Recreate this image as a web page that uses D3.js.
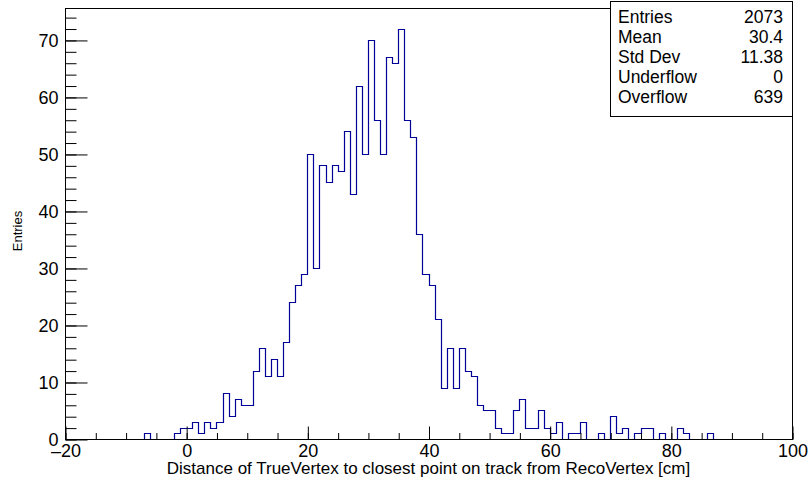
<!DOCTYPE html>
<html>
<head>
<meta charset="utf-8">
<script src="https://cdn.jsdelivr.net/npm/d3@7"></script>
<style>
  html, body { margin: 0; padding: 0; background: #fff; }
  svg { display: block; }
  text { font-family: "Liberation Sans", Arial, Helvetica, sans-serif; fill: #000; }
</style>
</head>
<body>
<svg id="chart" width="810" height="478"></svg>
<script>
// ---- data ----
const binLow = d3.range(-20, 100, 1);          // lower edges of the 120 bins (width 1)
const binWidth = 1;
const counts = [
  // -20 .. -11
  0,0,0,0,0,0,0,0,0,0,
  // -10 .. -1
  0,0,0,1,0,0,0,0,1,2,
  // 0 .. 9
  2,3,1,3,2,3,8,4,7,6,
  // 10 .. 19
  6,12,16,11,14,11,17,24,27,29,
  // 20 .. 29
  50,30,48,45,48,47,54,43,62,50,
  // 30 .. 39
  70,56,50,67,66,72,56,53,36,29,
  // 40 .. 49
  27,21,9,16,9,16,12,11,6,5,
  // 50 .. 59
  5,2,1,1,5,7,2,2,5,2,
  // 60 .. 69
  1,3,0,1,1,3,0,0,1,0,
  // 70 .. 79
  4,1,2,0,1,2,2,0,1,0,
  // 80 .. 89
  0,2,1,0,0,0,1,0,0,0,
  // 90 .. 99
  0,0,0,0,0,0,0,0,0,0
];
const xTicks = [-20, 0, 20, 40, 60, 80, 100];
const xMinorTicks = d3.range(-20, 100.001, 5);
const yTicks = [0, 10, 20, 30, 40, 50, 60, 70];
const yMinorTicks = d3.range(0, 75, 2);
const xTitle = "Distance of TrueVertex to closest point on track from RecoVertex [cm]";
const yTitle = "Entries";
const statLabels = ["Entries", "Mean", "Std Dev", "Underflow", "Overflow"];
const statValues = ["2073", "30.4", "11.38", "0", "639"];

// ---- layout ----
const L = 65, R = 792, T = 8, B = 439;
const svg = d3.select("#chart");

const x = d3.scaleLinear().domain([-20, 100]).range([L, R]);
const y = d3.scaleLinear().domain([0, 75.6]).range([B, T]);

// histogram step path
const pts = [[-20, 0]];
binLow.forEach((lo, i) => {
  pts.push([lo, counts[i]]);
  pts.push([lo + binWidth, counts[i]]);
});
pts.push([100, 0]);

svg.append("path")
  .attr("d", d3.line().x(d => Math.round(x(d[0])) + 0.5).y(d => Math.round(y(d[1])) + 0.5)(pts))
  .attr("fill", "none")
  .attr("stroke", "#000099")
  .attr("stroke-width", 1.2);

// x axis (minor ticks)
const gxm = svg.append("g").attr("transform", `translate(0.5,${B + 0.5})`)
  .call(d3.axisBottom(x).tickValues(xMinorTicks).tickSizeInner(-6.5).tickSizeOuter(0).tickFormat(""));
gxm.select(".domain").remove();
// x axis (major ticks + labels)
const gx = svg.append("g").attr("transform", `translate(0.5,${B + 0.5})`)
  .call(d3.axisBottom(x).tickValues(xTicks).tickSizeInner(-13).tickSizeOuter(0).tickPadding(5)
    .tickFormat(d => d < 0 ? "\u2013" + Math.abs(d) : String(d)));
gx.select(".domain").remove();
gx.selectAll("text").attr("font-size", 18).style("font-family", '"Liberation Sans", Arial, sans-serif');

// y axis (minor)
const gym = svg.append("g").attr("transform", `translate(${L + 0.5},0.5)`)
  .call(d3.axisLeft(y).tickValues(yMinorTicks).tickSizeInner(-11).tickSizeOuter(0).tickFormat(""));
gym.select(".domain").remove();
// y axis (major + labels)
const gy = svg.append("g").attr("transform", `translate(${L + 0.5},0.5)`)
  .call(d3.axisLeft(y).tickValues(yTicks).tickSizeInner(-22).tickSizeOuter(0).tickPadding(7));
gy.select(".domain").remove();
gy.selectAll("text").attr("font-size", 18).style("font-family", '"Liberation Sans", Arial, sans-serif');

svg.selectAll(".tick line").attr("stroke", "#000");

// frame
svg.append("rect")
  .attr("x", L + 0.5).attr("y", T + 0.5)
  .attr("width", R - L).attr("height", B - T)
  .attr("fill", "none").attr("stroke", "#000").attr("stroke-width", 1);

// axis titles
svg.append("text")
  .attr("x", (L + R) / 2).attr("y", 474)
  .attr("text-anchor", "middle").attr("font-size", 17)
  .text(xTitle);
svg.append("text")
  .attr("transform", "translate(17,231) rotate(-90)")
  .attr("dy", "0.35em")
  .attr("text-anchor", "middle").attr("font-size", 13)
  .text(yTitle);

// stats box
const bx = 610, by = 1, bw = R - 610, bh = 115;
svg.append("rect")
  .attr("x", bx + 0.5).attr("y", by + 0.5).attr("width", bw).attr("height", bh)
  .attr("fill", "#fff").attr("stroke", "#000").attr("stroke-width", 1);
const rowH = 20;
statLabels.forEach((lab, i) => {
  const cy = 17.3 + i * rowH;
  svg.append("text").attr("x", 618).attr("y", cy).attr("dy", "0.35em")
    .attr("font-size", 17.5).text(lab);
  svg.append("text").attr("x", 783).attr("y", cy).attr("dy", "0.35em")
    .attr("text-anchor", "end").attr("font-size", 17.5).text(statValues[i]);
});
</script>
</body>
</html>
